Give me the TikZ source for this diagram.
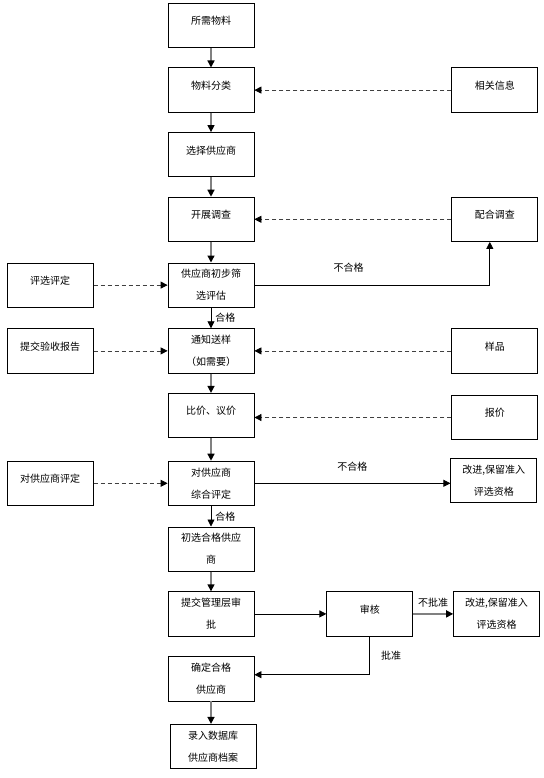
\documentclass[tikz,border=0pt]{standalone}
\usepackage{fontspec}
\setmainfont{Noto Sans CJK SC}
\usetikzlibrary{arrows.meta,positioning}

\begin{document}
\begin{tikzpicture}[x=1pt,y=-1pt,node distance=19.4pt,
		box/.style={draw,line width=0.8pt,minimum width=86pt,minimum height=44.4pt,inner sep=2pt,align=center,font=\fontsize{10}{22}\selectfont},
		onebox/.style={box,text height=8pt,text depth=9.4pt},
		tip/.style={-{Triangle[length=7pt,width=7pt,black]}},
		flow/.style={tip,draw=gray,line width=1.4pt},
		link/.style={tip,draw=black,line width=0.8pt},
		hint/.style={tip,draw=black!75,line width=0.8pt,dash pattern=on 4pt off 3pt},
		lbl/.style={inner sep=0pt,font=\fontsize{10}{12}\selectfont}]
			\useasboundingbox (0,0) rectangle (543,778);
			% main column
			\node[onebox] (need) at (211,25.5) {所需物料};
			\node[onebox] [below=of need] (sort) {物料分类};
			\node[onebox] [below=of sort] (pick) {选择供应商};
			\node[onebox] [below=of pick] (survey) {开展调查};
			\node[box] [below=20.6pt of survey] (screen) {供应商初步筛\\选评估};
			\node[box] [below=20.6pt of screen] (notice) {通知送样\\（如需要）};
			\node[onebox] [below=of notice] (price) {比价、议价};
			\node[box] [below=22.6pt of price] (comp) {对供应商\\综合评定};
			\node[box] [below=20.6pt of comp] (prelim) {初选合格供应\\商};
			\node[box] [below=19.6pt of prelim] (submit) {提交管理层审\\批};
			\node[box] [below=19.6pt of submit] (confirm) {确定合格\\供应商};
			\node[box] [below=22.6pt of confirm,xshift=2pt] (store) {录入数据库\\供应商档案};
			% right column
			\node[onebox] [right=197pt of sort] (info) {相关信息};
			\node[onebox] [right=197pt of survey] (coop) {配合调查};
			\node[onebox] [right=197pt of notice] (sample) {样品};
			\node[onebox] [right=197pt of price,yshift=-2pt] (quote) {报价};
			\node[box] [right=196pt of comp,yshift=3pt] (fix1) {改进,保留准入\\评选资格};
			\node[onebox] [right=72pt of submit] (audit) {审核};
			\node[box] [right=40pt of audit] (fix2) {改进,保留准入\\评选资格};
			% left column
			\node[onebox] [left=74pt of screen] (evaluate) {评选评定};
			\node[onebox] [left=74pt of notice] (report) {提交验收报告};
			\node[onebox] [left=74pt of comp] (rate) {对供应商评定};
			\path[flow]
				(need) edge (sort)
				(sort) edge (pick)
				(pick) edge (survey)
				(survey) edge (screen)
				(notice) edge (price)
				(price) edge (comp)
				(prelim) edge (submit)
				(confirm) edge (confirm.south |- store.north)
				(audit) edge node[lbl,above=6pt] {不批准} (audit -| fix2.west);
			\path[link]
				(screen) edge node[lbl,right=4pt] {合格} (notice)
				(comp) edge node[lbl,right=4pt] {合格} (prelim)
				(comp) edge node[lbl,above=12pt] {不合格} (comp -| fix1.west)
				(submit) edge (audit);
			\path[hint]
				(info) edge (sort)
				(coop) edge (survey)
				(sample) edge (notice)
				(quote) edge (quote -| price.east)
				(evaluate) edge (screen)
				(report) edge (notice)
				(rate) edge (comp);
			\draw[link] (screen) -| node[lbl,pos=0.2,above=12pt] {不合格} ([xshift=-5pt]coop.south);
			\draw[link] (audit) |- node[lbl,pos=0.25,right=11pt] {批准} ([yshift=4pt]confirm.east);
\end{tikzpicture}
\end{document}
